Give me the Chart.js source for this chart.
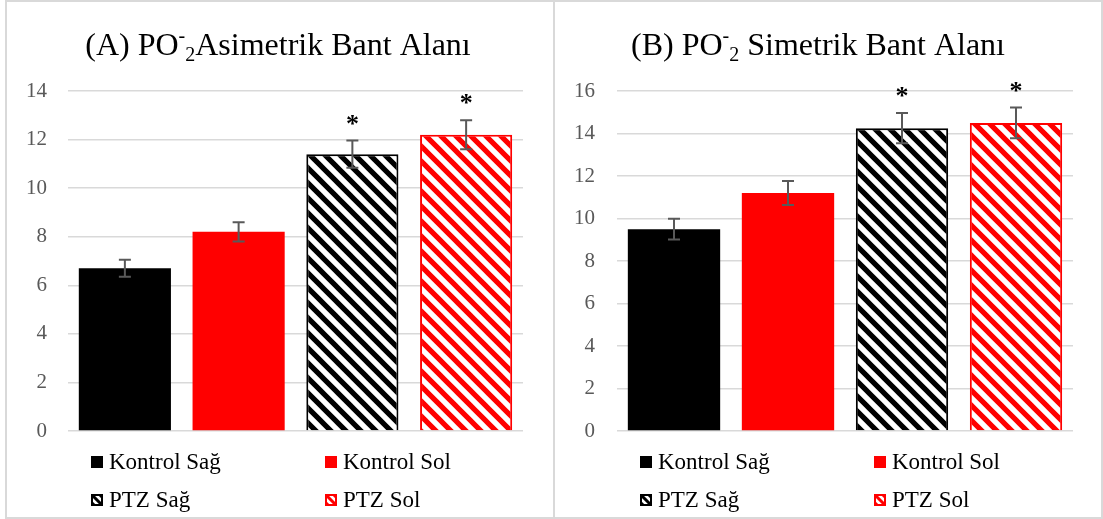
<!DOCTYPE html>
<html>
<head>
<meta charset="utf-8">
<title>PO2 Bant Alanı</title>
<script src="https://cdn.jsdelivr.net/npm/chart.js@4.4.1/dist/chart.umd.min.js"></script>
<style>
  html, body { margin: 0; padding: 0; background: #fff; }
  body { width: 1103px; height: 519px; position: relative; overflow: hidden; }
  .panel { position: absolute; top: 0; height: 519px; box-sizing: border-box; border: 2px solid #d9d9d9; }
  #panelA { left: 5px; width: 550px; }
  #panelB { left: 553px; width: 550px; border-left: none; }
  canvas { display: block; }
</style>
</head>
<body>
<div class="panel" id="panelA"><canvas id="asimCanvas" width="546" height="515"></canvas></div>
<div class="panel" id="panelB"><canvas id="simCanvas" width="548" height="515"></canvas></div>
<script>
// Groups shown in both charts
const seriesLabels = ['Kontrol Sağ', 'Kontrol Sol', 'PTZ Sağ', 'PTZ Sol'];
const seriesColors = ['#000000', '#ff0000', '#000000', '#ff0000'];
const seriesHatched = [false, false, true, true];

// (A) asymmetric band area
const asimValues = [6.7, 8.2, 11.4, 12.2];
const asimErrors = [0.35, 0.4, 0.56, 0.6];
const asimSignificant = [false, false, true, true];
const asimMax = 14;

// (B) symmetric band area
const simValues = [9.5, 11.2, 14.25, 14.5];
const simErrors = [0.49, 0.56, 0.71, 0.72];
const simSignificant = [false, false, true, true];
const simMax = 16;

const SERIF = "'Liberation Serif', 'Times New Roman', serif";

// diagonal stripes running top-left to bottom-right
function makeHatch(ctx, color, size, width) {
    const c = document.createElement('canvas');
    c.width = size;
    c.height = size;
    const g = c.getContext('2d');
    g.fillStyle = '#ffffff';
    g.fillRect(0, 0, size, size);
    g.strokeStyle = color;
    g.lineWidth = width;
    g.beginPath();
    for (const x0 of [-size, 0, size]) {
        g.moveTo(x0 - 3, -3);
        g.lineTo(x0 + size + 3, size + 3);
    }
    g.stroke();
    return ctx.createPattern(c, 'repeat');
}

// title with the superscript charge and subscript 2
const titlePlugin = {
    id: 'richTitle',
    afterDraw(chart, args, opts) {
        const ctx = chart.ctx;
        const sizes = { n: 32, sup: 20, sub: 20 };
        const shift = { n: 0, sup: -13, sub: 6 };
        ctx.save();
        ctx.fillStyle = '#000';
        ctx.textBaseline = 'alphabetic';
        let total = 0;
        opts.parts.forEach(p => {
            ctx.font = sizes[p.s] + 'px ' + SERIF;
            p.w = ctx.measureText(p.t).width;
            total += p.w;
        });
        let x = opts.center - total / 2;
        opts.parts.forEach(p => {
            ctx.font = sizes[p.s] + 'px ' + SERIF;
            ctx.fillText(p.t, x, opts.baseline + shift[p.s]);
            x += p.w;
        });
        ctx.restore();
    }
};

// error bars and significance stars
const errorBarPlugin = {
    id: 'errorBars',
    afterDatasetsDraw(chart, args, opts) {
        const ctx = chart.ctx;
        const y = chart.scales.y;
        ctx.save();
        chart.data.datasets.forEach((ds, i) => {
            const bar = chart.getDatasetMeta(i).data[0];
            const v = ds.data[0];
            const e = opts.errors[i];
            const top = y.getPixelForValue(v + e);
            const bot = y.getPixelForValue(v - e);
            ctx.strokeStyle = '#595959';
            ctx.lineWidth = 2;
            ctx.beginPath();
            ctx.moveTo(bar.x, top); ctx.lineTo(bar.x, bot);
            ctx.moveTo(bar.x - 6, top); ctx.lineTo(bar.x + 6, top);
            ctx.moveTo(bar.x - 6, bot); ctx.lineTo(bar.x + 6, bot);
            ctx.stroke();
            if (opts.significant[i]) {
                ctx.font = 'bold 26px ' + SERIF;
                ctx.fillStyle = '#000';
                ctx.textAlign = 'center';
                const m = ctx.measureText('*');
                const cy = top - 21;
                ctx.fillText('*', bar.x, cy + (m.actualBoundingBoxAscent - m.actualBoundingBoxDescent) / 2);
            }
        });
        ctx.restore();
    }
};

// two-column legend under the plot
const legendPlugin = {
    id: 'gridLegend',
    afterDraw(chart) {
        const ctx = chart.ctx;
        const area = chart.chartArea;
        const cols = [23, 257];
        const rows = [31, 69];
        const box = 12;
        ctx.save();
        ctx.font = '23px ' + SERIF;
        ctx.textBaseline = 'middle';
        chart.data.datasets.forEach((ds, i) => {
            const x = area.left + cols[i % 2];
            const cy = area.bottom + rows[Math.floor(i / 2)];
            const y0 = Math.round(cy - box / 2);
            if (seriesHatched[i]) {
                ctx.fillStyle = '#fff';
                ctx.fillRect(x, y0, box, box);
                ctx.save();
                ctx.beginPath();
                ctx.rect(x, y0, box, box);
                ctx.clip();
                ctx.strokeStyle = seriesColors[i];
                ctx.lineWidth = 3;
                ctx.beginPath();
                for (const k of [-8, 0, 8]) {
                    ctx.moveTo(x + k - 2, y0 - 2);
                    ctx.lineTo(x + k + box + 2, y0 + box + 2);
                }
                ctx.stroke();
                ctx.restore();
                ctx.strokeStyle = seriesColors[i];
                ctx.lineWidth = 2;
                ctx.strokeRect(x + 1, y0 + 1, box - 2, box - 2);
            } else {
                ctx.fillStyle = seriesColors[i];
                ctx.fillRect(x, y0, box, box);
            }
            ctx.fillStyle = '#000';
            ctx.fillText(ds.label, x + box + 6, cy + 1);
        });
        ctx.restore();
    }
};

function createBarChart(canvasId, cfg) {
    const canvas = document.getElementById(canvasId);
    const ctx = canvas.getContext('2d');

    const datasets = seriesLabels.map((label, i) => ({
        label: label,
        data: [cfg.values[i]],
        backgroundColor: seriesHatched[i] ? makeHatch(ctx, seriesColors[i], 15, 5.2) : seriesColors[i],
        borderColor: seriesColors[i],
        borderWidth: seriesHatched[i] ? 2 : 0,
        categoryPercentage: 1,
        barPercentage: 0.81
    }));

    return new Chart(canvas, {
        type: 'bar',
        data: { labels: [''], datasets: datasets },
        plugins: [titlePlugin, errorBarPlugin, legendPlugin],
        options: {
            responsive: false,
            animation: false,
            layout: {
                padding: { top: 89, bottom: 86, left: 0, right: cfg.rightPad }
            },
            plugins: {
                legend: { display: false },
                tooltip: { enabled: false },
                title: { display: false },
                richTitle: { parts: cfg.title, center: cfg.titleCenter, baseline: 53 },
                errorBars: { errors: cfg.errors, significant: cfg.significant }
            },
            scales: {
                x: { display: false },
                y: {
                    min: 0,
                    max: cfg.max,
                    afterFit(scale) { scale.width = cfg.axisWidth; },
                    ticks: {
                        stepSize: 2,
                        padding: cfg.tickPad,
                        color: '#595959',
                        font: { family: SERIF, size: 21 }
                    },
                    grid: { color: '#d9d9d9', lineWidth: 1.5, drawTicks: false },
                    border: { display: false }
                }
            }
        }
    });
}

createBarChart('asimCanvas', {
    values: asimValues,
    errors: asimErrors,
    significant: asimSignificant,
    max: asimMax,
    axisWidth: 61,
    tickPad: 21,
    rightPad: 30,
    titleCenter: 271,
    title: [
        { t: '(A) PO', s: 'n' },
        { t: '-', s: 'sup' },
        { t: '2', s: 'sub' },
        { t: 'Asimetrik Bant Alanı', s: 'n' }
    ]
});

createBarChart('simCanvas', {
    values: simValues,
    errors: simErrors,
    significant: simSignificant,
    max: simMax,
    axisWidth: 64,
    tickPad: 22,
    rightPad: 28,
    titleCenter: 265,
    title: [
        { t: '(B) PO', s: 'n' },
        { t: '-', s: 'sup' },
        { t: '2', s: 'sub' },
        { t: ' Simetrik Bant Alanı', s: 'n' }
    ]
});
</script>
</body>
</html>
